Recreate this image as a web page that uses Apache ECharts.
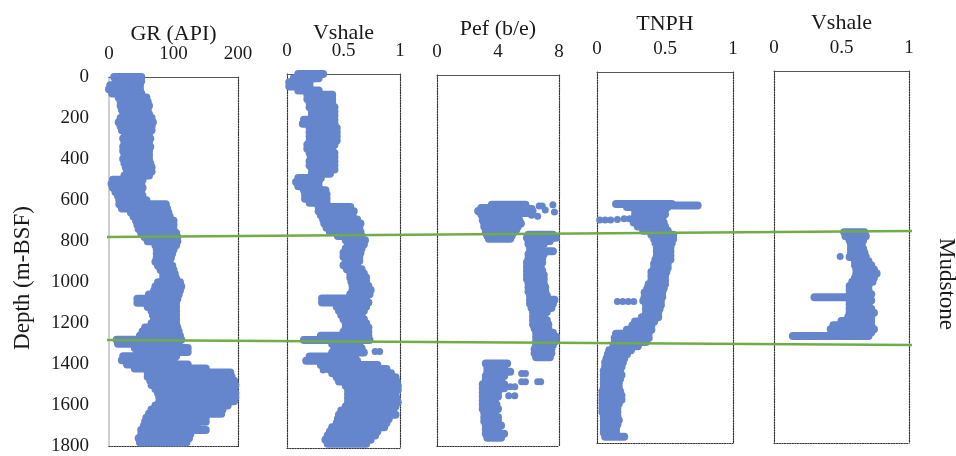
<!DOCTYPE html>
<html><head><meta charset="utf-8">
<script src="https://cdn.jsdelivr.net/npm/echarts@6/dist/echarts.min.js"></script>
<style>html,body{margin:0;padding:0;background:#fff}#c{width:956px;height:456px}</style>
</head><body><div id="c"></div>
<script>
// ---- Data: rows are [depth (m-BSF), low value, high value] ----
const grRows = [
[0,8,50],[20,10,50],[40,2,48],[60,0,48],[80,5,50],[100,15,58],[120,18,60],[140,18,62],[160,20,60],[180,22,62],
[200,18,66],[220,15,68],[240,18,66],[260,20,66],[280,25,62],[300,22,64],[320,24,62],[340,22,64],[360,22,62],[380,24,62],
[400,22,62],[420,24,64],[440,26,66],[460,28,66],[480,24,62],[500,6,52],[520,4,50],[540,6,52],[560,10,50],[580,14,52],
[600,16,58],[620,16,88],[640,20,90],[660,34,92],[680,38,94],[700,42,100],[720,44,100],[740,46,100],[760,50,104],[780,55,106],
[800,60,106],[820,72,104],[840,74,100],[860,74,98],[880,74,96],[900,72,94],[920,76,98],[940,80,100],[960,84,102],[980,84,104],
[1000,76,110],[1020,72,112],[1040,70,110],[1060,62,108],[1080,44,106],[1100,44,104],[1120,60,104],[1140,66,104],[1160,68,104],[1180,70,104],
[1200,66,104],[1220,56,106],[1240,52,108],[1260,48,110],[1280,12,112],[1300,14,108],[1320,40,122],[1340,44,122],[1360,22,104],[1380,20,100],
[1400,28,122],[1420,40,150],[1440,60,188],[1460,60,190],[1480,64,194],[1500,66,196],[1520,72,194],[1540,76,196],[1560,78,196],[1580,78,194],
[1600,72,184],[1620,66,176],[1640,62,174],[1660,58,150],[1680,56,150],[1700,54,136],[1720,50,150],[1740,50,126],[1760,46,124],[1780,48,120]
];
const grDots = [];

const vshRows = [
[0,0.10,0.32],[20,0.06,0.28],[40,0.02,0.20],[60,0.02,0.20],[80,0.10,0.28],[100,0.18,0.40],[120,0.18,0.40],[140,0.20,0.40],[160,0.20,0.42],[180,0.22,0.42],
[200,0.22,0.42],[220,0.15,0.42],[240,0.14,0.42],[260,0.20,0.44],[280,0.20,0.44],[300,0.20,0.44],[320,0.20,0.44],[340,0.18,0.42],[360,0.18,0.40],[380,0.20,0.42],
[400,0.21,0.42],[420,0.20,0.42],[440,0.20,0.42],[460,0.22,0.42],[480,0.22,0.38],[500,0.10,0.30],[520,0.08,0.28],[540,0.10,0.28],[560,0.15,0.34],[580,0.16,0.35],
[600,0.16,0.35],[620,0.20,0.35],[640,0.28,0.56],[660,0.28,0.59],[680,0.30,0.58],[700,0.32,0.62],[720,0.33,0.65],[740,0.35,0.64],[760,0.38,0.65],[780,0.45,0.66],
[800,0.52,0.69],[820,0.54,0.68],[840,0.52,0.66],[860,0.50,0.65],[880,0.50,0.64],[900,0.52,0.64],[920,0.50,0.62],[940,0.53,0.66],[960,0.56,0.68],[980,0.56,0.70],
[1000,0.57,0.70],[1020,0.58,0.72],[1040,0.58,0.74],[1060,0.56,0.73],[1080,0.31,0.70],[1100,0.31,0.72],[1120,0.44,0.70],[1140,0.46,0.68],[1160,0.48,0.66],[1180,0.50,0.68],
[1200,0.52,0.70],[1220,0.52,0.72],[1240,0.50,0.72],[1260,0.30,0.72],[1280,0.15,0.73],[1300,0.40,0.64],[1320,0.42,0.66],[1340,0.40,0.68],[1360,0.20,0.60],[1380,0.17,0.62],
[1400,0.30,0.80],[1420,0.36,0.88],[1440,0.40,0.92],[1460,0.44,0.96],[1480,0.46,0.97],[1500,0.52,0.98],[1520,0.54,0.98],[1540,0.54,0.96],[1560,0.54,0.97],[1580,0.54,0.98],
[1600,0.52,0.96],[1620,0.48,0.94],[1640,0.46,0.96],[1660,0.45,0.90],[1680,0.44,0.88],[1700,0.40,0.86],[1720,0.38,0.80],[1740,0.36,0.78],[1760,0.34,0.74],[1780,0.36,0.70]
];
const vshDots = [[1336,0.78],[1336,0.82],[1424,0.32]];

const pefRows = [
[630,3.6,5.8],[645,2.9,5.4],[660,2.7,5.2],[675,2.9,5.0],[690,3.0,5.2],[705,3.0,5.4],[720,3.1,5.5],[735,3.1,5.3],[750,3.2,5.2],[765,3.2,5.0],
[780,3.3,4.9],[795,3.4,4.8],[650,5.4,6.2],[670,5.4,6.0],
[775,6.0,7.6],[790,5.9,7.8],[805,6.0,7.4],[820,6.0,7.0],[835,6.1,6.8],
[855,6.1,7.6],[870,6.0,7.0],[890,6.0,6.9],[910,5.9,6.9],[930,5.9,6.8],[950,5.9,6.9],[970,5.9,7.0],[990,5.9,7.0],[1010,6.0,7.0],[1030,6.0,7.1],
[1050,6.0,7.1],[1070,6.1,7.2],[1090,6.1,7.7],[1110,6.1,7.6],[1130,6.2,7.5],[1150,6.3,7.2],[1170,6.3,7.0],[1190,6.3,7.2],[1210,6.3,7.3],[1230,6.4,7.3],
[1250,6.5,7.6],[1270,6.5,7.8],[1290,6.5,7.8],[1310,6.5,7.6],[1330,6.4,7.5],[1350,6.4,7.5],[1370,6.5,7.4],
[1400,3.2,4.6],[1420,3.3,4.4],[1440,3.3,4.8],[1460,3.2,4.4],[1480,3.2,4.2],[1500,3.0,4.4],[1520,3.0,4.4],[1540,3.0,4.0],[1560,3.0,4.0],[1580,3.0,3.8],
[1600,3.0,3.9],[1620,3.0,4.0],[1640,3.1,3.8],[1660,3.1,4.0],[1680,3.1,4.0],[1700,3.2,4.2],[1720,3.2,4.0],[1740,3.2,4.4],[1760,3.3,4.2]
];
const pefDots = [[635,6.7],[635,6.9],[630,7.6],[655,7.1],[665,7.7],[680,6.2],[685,6.6],[660,6.3],
[1448,5.55],[1448,5.8],[1488,5.55],[1488,5.8],[1488,6.6],[1488,6.8],[1512,4.8],[1512,5.1],[1556,4.7],[1556,5.1]];

const tnphRows = [
[640,0.14,0.55],[648,0.56,0.74],[655,0.22,0.52],[670,0.28,0.50],[690,0.28,0.50],[710,0.28,0.48],[730,0.27,0.49],[750,0.30,0.50],[770,0.34,0.52],[790,0.40,0.56],
[810,0.42,0.56],[830,0.43,0.55],[850,0.44,0.54],[870,0.44,0.54],[890,0.44,0.54],[910,0.43,0.54],[930,0.42,0.52],[950,0.42,0.52],[970,0.40,0.51],[990,0.40,0.50],
[1010,0.40,0.50],[1030,0.38,0.50],[1050,0.37,0.49],[1070,0.35,0.48],[1090,0.35,0.48],[1110,0.34,0.47],[1130,0.36,0.47],[1150,0.36,0.46],[1170,0.36,0.45],[1190,0.33,0.45],
[1210,0.28,0.42],[1230,0.26,0.40],[1250,0.22,0.40],[1270,0.14,0.38],[1290,0.13,0.38],[1310,0.13,0.36],[1330,0.12,0.30],[1350,0.09,0.25],[1370,0.08,0.22],[1390,0.07,0.20],
[1410,0.06,0.19],[1430,0.06,0.18],[1450,0.05,0.17],[1470,0.05,0.18],[1490,0.05,0.17],[1510,0.05,0.16],[1530,0.05,0.16],[1550,0.04,0.17],[1570,0.04,0.18],[1590,0.04,0.18],
[1610,0.04,0.16],[1630,0.04,0.15],[1650,0.04,0.15],[1670,0.05,0.15],[1690,0.05,0.16],[1710,0.05,0.15],[1730,0.05,0.14],[1750,0.05,0.14],[1770,0.06,0.20]
];
const tnphDots = [[1114,0.15],[1114,0.19],[1114,0.23],[1114,0.27],[718,0.02],[718,0.06],[718,0.10],[716,0.15],[712,0.20],[712,0.24]];

const vsh2Rows = [
[780,0.52,0.67],[800,0.53,0.68],[820,0.56,0.66],[840,0.57,0.65],[860,0.57,0.66],[880,0.57,0.67],[900,0.56,0.68],[920,0.60,0.70],[940,0.60,0.72],[960,0.61,0.74],
[980,0.61,0.76],[1000,0.60,0.74],[1020,0.58,0.73],[1040,0.56,0.70],[1060,0.56,0.70],[1080,0.56,0.72],[1095,0.30,0.55],[1110,0.56,0.72],[1130,0.56,0.70],[1150,0.56,0.72],
[1170,0.56,0.74],[1190,0.55,0.72],[1210,0.50,0.72],[1230,0.44,0.72],[1250,0.42,0.74],[1265,0.45,0.72],[1282,0.14,0.50],[1282,0.50,0.70]
];
const vsh2Dots = [[898,0.49]];

// Track axes
const trackTitles = ['GR (API)', 'Vshale', 'Pef (b/e)', 'TNPH', 'Vshale'];
const trackMin = [0, 0, 0, 0, 0];
const trackMax = [200, 1, 8, 1, 1];
const trackInterval = [100, 0.5, 4, 0.5, 0.5];
const depthMin = 0, depthMax = 1800, depthInterval = 200;
// Boundary (green) lines: depth at left end, depth at right end
const boundaryUpper = [774, 745];
const boundaryLower = [1273, 1297];

const allRows = [grRows, vshRows, pefRows, tnphRows, vsh2Rows];
const allDots = [grDots, vshDots, pefDots, tnphDots, vsh2Dots];

// Layout (style only)
const grids = [
  {left:109, right:718, top:77, bottom:7},
  {left:287, right:556, top:74, bottom:8},
  {left:437, right:397, top:75, bottom:10},
  {left:597, right:223, top:72, bottom:13},
  {left:774, right:47, top:71, bottom:13},
  {left:107, right:44, top:77, bottom:7}
];
const titleGaps = [32, 30, 35, 37, 37];
const BLUE = '#6585CC';
const FONT = '"Liberation Serif","Times New Roman",serif';
const dotted = {color:'#333', width:1.2, type:[1.3,1.3]};

const xAxis = [], yAxis = [], series = [];
for (let i = 0; i < 5; i++) {
  xAxis.push({gridIndex:i, type:'value', position:'top', min:trackMin[i], max:trackMax[i], interval:trackInterval[i],
    axisLine:{show:true, onZero:false, lineStyle:{color:'#555', width:1}}, axisTick:{show:false}, splitLine:{show:false},
    axisLabel:{fontFamily:FONT, fontSize:19, color:'#1a1a1a', margin:13},
    name:trackTitles[i], nameLocation:'middle', nameGap:titleGaps[i], nameMoveOverlap:false,
    nameTextStyle:{fontFamily:FONT, fontSize:22, color:'#1a1a1a'}});
  xAxis.push({gridIndex:i, type:'value', position:'bottom', min:trackMin[i], max:trackMax[i],
    axisLine:{show:true, onZero:false, lineStyle:dotted}, axisTick:{show:false}, axisLabel:{show:false}, splitLine:{show:false}});
  yAxis.push({gridIndex:i, type:'value', inverse:true, position:'left', min:depthMin, max:depthMax, interval:depthInterval,
    axisLine:{show:true, onZero:false, lineStyle: i===0 ? {color:'#bfbfbf', width:1.5} : dotted},
    axisTick:{show:false}, splitLine:{show:false},
    axisLabel:{show:i===0, fontFamily:FONT, fontSize:19, color:'#1a1a1a', margin:20, formatter:v => String(v)}});
  yAxis.push({gridIndex:i, type:'value', inverse:true, position:'right', min:depthMin, max:depthMax,
    axisLine:{show:true, onZero:false, lineStyle:dotted}, axisTick:{show:false}, axisLabel:{show:false}, splitLine:{show:false}});
  series.push({
    type:'custom', xAxisIndex:2*i, yAxisIndex:2*i, silent:true, clip:false,
    data: allRows[i],
    encode:{x:[1,2], y:0},
    renderItem:function(params, api){
      const d = api.value(0), lo = api.value(1), hi = api.value(2);
      const a = api.coord([lo, d]), b = api.coord([hi, d]);
      return {type:'line', shape:{x1:a[0], y1:a[1], x2:b[0], y2:b[1]},
        style:{stroke:BLUE, lineWidth:8, lineCap:'round'}};
    }
  });
  series.push({
    type:'scatter', xAxisIndex:2*i, yAxisIndex:2*i, silent:true, symbolSize:7,
    itemStyle:{color:BLUE, opacity:1},
    data: allDots[i].map(p => [p[1], p[0]])
  });
}
// overlay for boundary lines
xAxis.push({gridIndex:5, type:'value', min:0, max:1, show:false});
yAxis.push({gridIndex:5, type:'value', inverse:true, min:depthMin, max:depthMax, show:false});
[boundaryUpper, boundaryLower].forEach(b => {
  series.push({type:'line', xAxisIndex:10, yAxisIndex:10, silent:true, symbol:'none', z:10,
    lineStyle:{color:'#70AD47', width:2.5}, data:[[0, b[0]], [1, b[1]]]});
});

const chart = echarts.init(document.getElementById('c'), null, {renderer:'canvas'});
chart.setOption({
  animation:false,
  backgroundColor:'#fff',
  grid: grids,
  xAxis, yAxis, series,
  graphic:[
    {type:'text', x:23, y:278, rotation:Math.PI/2,
     style:{text:'Depth (m-BSF)', font:'23px ' + FONT, fill:'#1a1a1a', textAlign:'center', textVerticalAlign:'middle'}},
    {type:'text', x:946, y:284, rotation:-Math.PI/2,
     style:{text:'Mudstone', font:'23px ' + FONT, fill:'#1a1a1a', textAlign:'center', textVerticalAlign:'middle'}}
  ]
});
</script></body></html>
